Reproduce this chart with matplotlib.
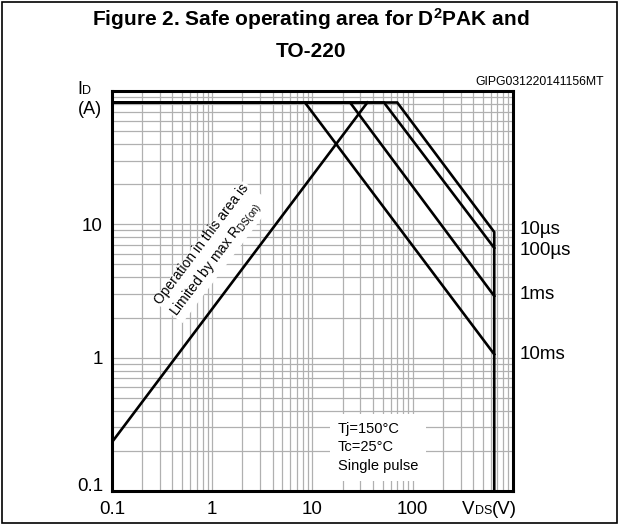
import numpy as np
import matplotlib.pyplot as plt
import matplotlib.transforms as mtransforms
from matplotlib.offsetbox import TextArea, HPacker, AnnotationBbox
from matplotlib.patches import Rectangle
from matplotlib.ticker import NullFormatter

plt.rcParams['font.family'] = ['Liberation Sans', 'DejaVu Sans']
plt.rcParams['mathtext.fontset'] = 'custom'
plt.rcParams['mathtext.rm'] = 'Liberation Sans'
plt.rcParams['mathtext.it'] = 'Liberation Sans:italic'
plt.rcParams['mathtext.bf'] = 'Liberation Sans:bold'

# limits
id_max = 82.0      # A, flat top shared by all curves
vds_max = 650.0    # V, right hand limit
rds_on = 0.43      # ohm, left hand limit line I = V / R

pulse_labels = ['10µs', '100µs', '1ms', '10ms']
pulse_v_knee = [70.0, 51.6, 23.7, 8.4]    # V where curve leaves id_max
pulse_i_end = [8.75, 6.65, 2.9, 1.06]     # A at vds_max
label_nudge = [2, -2, 1, 0]               # pt, keeps labels apart

x_ticks = [0.1, 1, 10, 100]
x_ticklabels = ['0.1', '1', '10', '100']
y_ticks = [0.1, 1, 10]
y_ticklabels = ['0.1', '1', '10']

rds_v = np.array([0.1, id_max * rds_on])
rds_i = rds_v / rds_on

fig = plt.figure(figsize=(6.19, 5.25), dpi=100)
ax = fig.add_axes([112/619, 1 - 491/525, 401/619, 400/525])
ax.set_xscale('log')
ax.set_yscale('log')
ax.set_xlim(0.1, 1000)
ax.set_ylim(0.1, 100)

ax.grid(True, which='both', color='#b0b0b0', lw=0.9)
ax.set_axisbelow(True)
for s in ax.spines.values():
    s.set_linewidth(2.2)

lw = 1.9
ax.plot(rds_v, rds_i, color='black', lw=lw)
for k, (knee, iend) in enumerate(zip(pulse_v_knee, pulse_i_end)):
    v = [0.1, knee, vds_max]
    i = [id_max, id_max, iend]
    if k == 0:
        v.append(vds_max)
        i.append(0.1)
    ax.plot(v, i, color='black', lw=lw, solid_joinstyle='miter')

ax.set_xticks(x_ticks)
ax.set_xticklabels(x_ticklabels)
ax.set_yticks(y_ticks)
ax.set_yticklabels(y_ticklabels)
ax.xaxis.set_minor_formatter(NullFormatter())
ax.yaxis.set_minor_formatter(NullFormatter())
ax.tick_params(which='both', length=0, labelsize=13.5)
ax.tick_params(axis='x', pad=7)
ax.tick_params(axis='y', pad=6.5)
# bottom y label sits a little above the corner
lab0 = ax.get_yticklabels()[0]
lab0.set_transform(lab0.get_transform() +
                   mtransforms.ScaledTranslation(0, 5/72, fig.dpi_scale_trans))

# pulse labels to the right of the graph
for lab, iend, dy in zip(pulse_labels, pulse_i_end, label_nudge):
    ax.annotate(lab, xy=(1.0, iend), xycoords=('axes fraction', 'data'),
                xytext=(4.5, dy), textcoords='offset points',
                ha='left', va='center', fontsize=13.5, annotation_clip=False)

# R_DS(on) limit note
ax.text(0.98, 6.31, 'Operation in this area is\nLimited by max R$_{\\mathrm{DS(on)}}$',
        rotation=53, rotation_mode='anchor', ha='center', va='center',
        multialignment='left', fontsize=10, linespacing=1.35,
        bbox=dict(boxstyle='square,pad=0.1', fc='white', ec='none'))

# conditions box
ax.text(17.9, 0.212, 'Tj=150°C\nTc=25°C\nSingle pulse',
        ha='left', va='center', fontsize=10.5, linespacing=1.45,
        bbox=dict(boxstyle='square,pad=0.55', fc='white', ec='none'))

# titles
fig.text(311/619, 1 - 26/525, 'Figure 2. Safe operating area for D$^{\\mathbf{2}}$PAK and',
         ha='center', va='baseline', fontsize=15, weight='bold')
fig.text(311/619, 1 - 57/525, 'TO-220',
         ha='center', va='baseline', fontsize=15, weight='bold')
fig.text(604/619, 1 - 85/525, 'GIPG031220141156MT',
         ha='right', va='baseline', fontsize=8.8)

# axis names with small-cap subscripts
def small_caps_label(parts, xy):
    boxes = [TextArea(t, textprops=dict(fontsize=s)) for t, s in parts]
    pack = HPacker(children=boxes, align='baseline', pad=0, sep=0)
    ab = AnnotationBbox(pack, xy, xycoords='figure fraction',
                        box_alignment=(0, 0.5), frameon=False, pad=0)
    fig.add_artist(ab)

small_caps_label([('I', 13), ('D', 9)], (77/619, 1 - 89/525))
fig.text(90/619, 1 - 110/525, '(A)', ha='center', va='center', fontsize=13)
small_caps_label([('V', 13.5), ('DS', 9), ('(V)', 13.5)], (462/619, 1 - 509/525))

fig.add_artist(Rectangle((0.003, 0.003), 0.994, 0.994, transform=fig.transFigure,
                         fill=False, ec='black', lw=1.2))

fig.savefig('out.png', dpi=100)
